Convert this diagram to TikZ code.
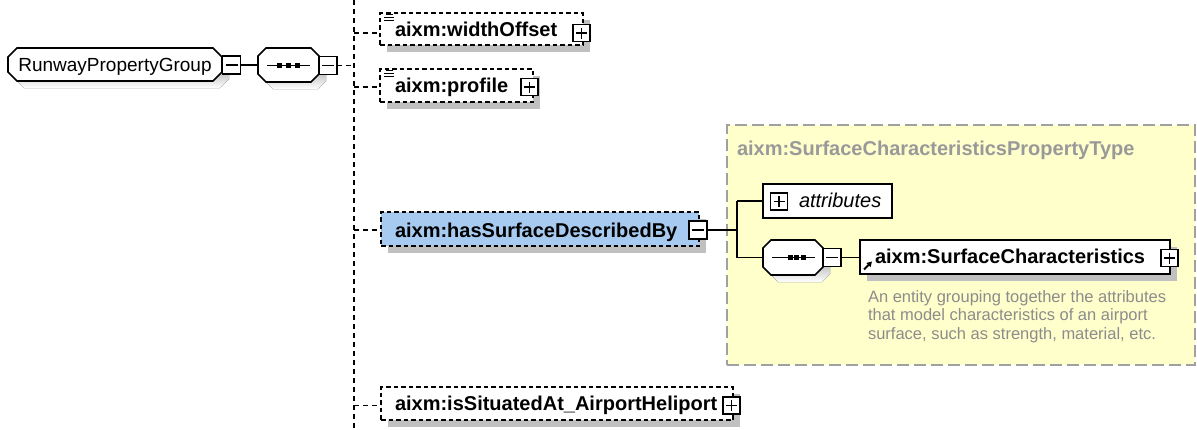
\documentclass[tikz,border=0pt]{standalone}
\usepackage{fontspec}
\setmainfont{Liberation Sans}
\usetikzlibrary{arrows.meta,shadows}

\definecolor{shade}{HTML}{C0C0C0}
\definecolor{selblue}{HTML}{A6CAF0}
\definecolor{typebg}{HTML}{FFFFCC}
\definecolor{typeline}{HTML}{A0A0A0}
\definecolor{typetitle}{HTML}{999999}
\definecolor{note}{HTML}{8C8C8C}

% octagon outline: x1, y1, x2, y2, chamfer
\newcommand{\octpath}[5]{(#1+#5,#2) -- (#3-#5,#2) -- (#3,#2+#5) -- (#3,#4-#5) -- (#3-#5,#4) -- (#1+#5,#4) -- (#1,#4-#5) -- (#1,#2+#5) -- cycle}

\begin{document}
\begin{tikzpicture}[x=1pt, y=-1pt, line width=1.7pt,
  every node/.style={inner sep=0pt, outer sep=0pt},
  boxshadow/.style={drop shadow={shadow xshift=7pt, shadow yshift=-7pt, opacity=1, fill=shade}},
  optelem/.style={draw, dash pattern=on 4.5pt off 3pt, fill=white, boxshadow, anchor=north west},
  reqelem/.style={draw, fill=white, anchor=north west},
  pmbox/.style={draw, fill=white, minimum width=17pt, minimum height=17pt, line width=1.5pt},
  xminus/.style={pmbox, path picture={
      \draw[line width=1.5pt] ([xshift=3pt]path picture bounding box.west) -- ([xshift=-3pt]path picture bounding box.east);}},
  xplus/.style={pmbox, path picture={
      \draw[line width=1.5pt] ([xshift=3pt]path picture bounding box.west) -- ([xshift=-3pt]path picture bounding box.east)
                              ([yshift=-3pt]path picture bounding box.north) -- ([yshift=3pt]path picture bounding box.south);}},
  lbl/.style={anchor=base west, font=\fontsize{20}{24}\selectfont\bfseries},
  notetext/.style={anchor=base west, text=note, font=\fontsize{16.5}{18}\selectfont},
  dashconn/.style={dash pattern=on 5pt off 4pt},
  seqdot/.style={fill=black}
]
\fill[white] (0,0) rectangle (1197,429);
\path[use as bounding box] (0,0) rectangle (1197,429);

% ---- complex type area ----
\node[draw=typeline, fill=typebg, line width=1.8pt, dash pattern=on 12pt off 5pt,
      minimum width=468pt, minimum height=240pt, anchor=north west] (ptype) at (727,125) {};
\node[lbl, text=typetitle] (ptitle) at (737,155) {aixm:SurfaceCharacteristicsPropertyType};

% ---- group root ----
\fill[shade] \octpath{15}{55}{229}{88}{9};
\draw[fill=white] \octpath{8}{48}{222}{81}{9};
\node[minimum width=214pt, minimum height=33pt, anchor=north west] (rpg) at (8,48) {};
\node[anchor=base, font=\fontsize{19}{22}\selectfont] (rpgt) at (115,71) {RunwayPropertyGroup};
\node[xminus, minimum width=18pt, minimum height=18pt] (rpgm) at (231.5,65) {};

% ---- outer sequence ----
\fill[shade] \octpath{265}{55}{326}{89}{8};
\draw[fill=white] \octpath{258}{48}{319}{82}{8};
\node[minimum width=61pt, minimum height=34pt, anchor=north west] (seqa) at (258,48) {};
\draw (267,65.5) -- (310,65.5);
\fill[seqdot] (277,63) rectangle (282,68);
\fill[seqdot] (286,63) rectangle (291,68);
\fill[seqdot] (295,63) rectangle (300,68);
\node[xminus, minimum width=18pt, minimum height=18pt] (seqam) at (328,65.5) {};

% ---- child elements ----
\node[optelem, minimum width=203pt, minimum height=32pt] (wo) at (380,13) {};
\node[lbl] (wot) at (395,36) {aixm:widthOffset};
\node[xplus] (wop) at (581.5,33) {};

\node[optelem, minimum width=153pt, minimum height=33pt] (pr) at (380,69) {};
\node[lbl] (prt) at (395,92) {aixm:profile};
\node[xplus] (prp) at (529.5,87) {};

\node[optelem, fill=selblue, minimum width=318pt, minimum height=34pt] (hs) at (381,212) {};
\node[lbl] (hst) at (395,237) {aixm:hasSurfaceDescribedBy};
\node[xminus, minimum width=18pt, minimum height=18pt] (hsm) at (698,230) {};

\node[optelem, minimum width=352pt, minimum height=33pt] (is) at (381,387) {};
\node[lbl] (ist) at (395,410) {aixm:isSituatedAt\_AirportHeliport};
\node[xplus] (isp) at (731.5,405.5) {};

% list markers
\foreach \yy in {13, 69}{
  \draw[line width=1.1pt] (386,\yy+1.5) -- (393,\yy+1.5);
  \draw[line width=1.1pt] (384,\yy+4.5) -- (394,\yy+4.5);
  \draw[line width=1.1pt] (384,\yy+7.5) -- (394,\yy+7.5);
}

% ---- content of the property type ----
\node[reqelem, minimum width=129pt, minimum height=34pt] (atb) at (763,184) {};
\node[xplus] (atp) at (779,201.5) {};
\node[anchor=base west, font=\fontsize{20}{24}\selectfont\itshape] (att) at (799,207) {attributes};

\fill[shade] \octpath{770}{247}{830}{282}{8};
\draw[fill=white] \octpath{763}{240}{823}{275}{8};
\node[minimum width=60pt, minimum height=35pt, anchor=north west] (seqb) at (763,240) {};
\draw (772,257.5) -- (815,257.5);
\fill[seqdot] (787.5,255) rectangle (792.5,260);
\fill[seqdot] (794,255) rectangle (799,260);
\fill[seqdot] (800.5,255) rectangle (805.5,260);
\node[xminus, minimum width=18pt, minimum height=18pt] (seqbm) at (832,257.5) {};

\node[reqelem, boxshadow, minimum width=310pt, minimum height=34pt] (sc) at (860,240) {};
\node[lbl] (sct) at (875,263) {aixm:SurfaceCharacteristics};
\node[xplus] (scp) at (1169.5,258) {};
\draw[line width=1.8pt, -{Triangle[length=5pt,width=5.5pt]}] (864,269.5) -- (872,261.5);

\node[notetext] (d1) at (868,302) {An entity grouping together the attributes};
\node[notetext] (d2) at (868,320.5) {that model characteristics of an airport};
\node[notetext] (d3) at (868,339) {surface, such as strength, material, etc.};

% ---- connectors ----
\coordinate (ttop) at (354,0);
\coordinate (tbot) at (354,429);
\draw[dashconn] (ttop) -- (tbot);
\draw (rpgm.east) -- (seqa.west);
\draw[dashconn] (seqam.east) -- (seqam.east -| ttop);
\draw[dashconn] (wop -| ttop) -- (wop -| wo.west);
\draw[dashconn] (prp -| ttop) -- (prp -| pr.west);
\draw[dashconn] (hsm -| ttop) -- (hsm -| hs.west);
\draw[dashconn] (isp -| ttop) -- (isp -| is.west);

\coordinate (jn) at (737,230);
\draw (hsm.east) -- (hsm.east -| jn);
\draw (atb.west -| jn) -- (seqb.west -| jn);
\draw (atb.west -| jn) -- (atb.west);
\draw (seqb.west -| jn) -- (seqb.west);
\draw (seqbm.east) -- (sc.west |- seqbm.east);
\end{tikzpicture}
\end{document}
